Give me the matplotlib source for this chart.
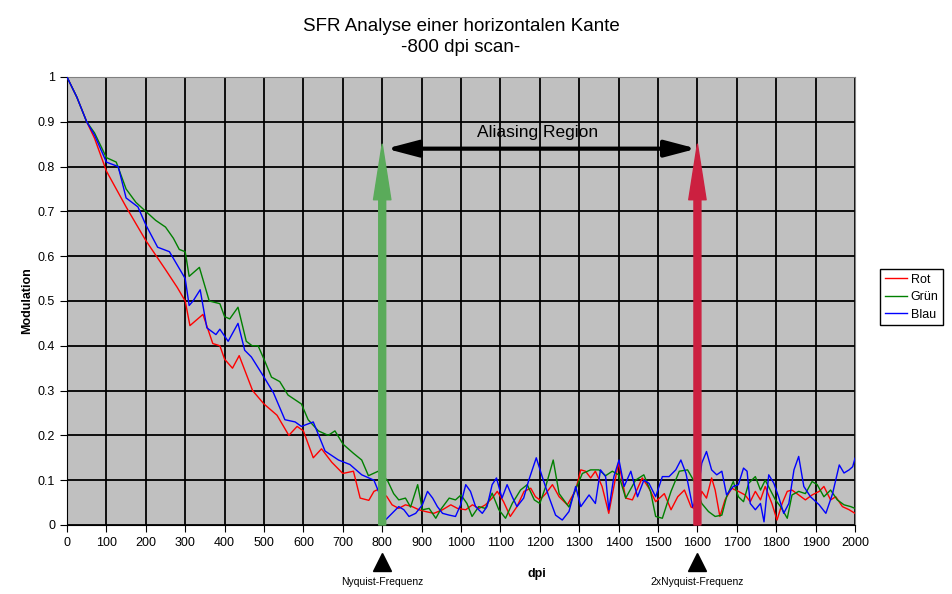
import numpy as np
import matplotlib
matplotlib.use("Agg")
import matplotlib.pyplot as plt

plt.rcParams['font.family'] = ['Liberation Sans', 'DejaVu Sans']

# values (dpi, modulation)
rot_x = [0, 25, 50, 70, 100, 150, 200, 250, 280, 300, 312, 345, 370, 388, 400, 420, 437, 471, 500, 533,
         563, 584, 600, 625, 646, 672, 700, 727, 744, 766, 779, 791, 812, 825, 842, 859, 876, 893, 910, 931,
         953, 974, 991, 1012, 1029, 1046, 1062, 1079, 1092, 1108, 1125, 1142, 1160, 1177, 1189, 1200, 1215,
         1232, 1249, 1270, 1291, 1304, 1316, 1329, 1341, 1358, 1375, 1388, 1400, 1418, 1435, 1460, 1477,
         1494, 1516, 1533, 1550, 1567, 1584, 1600, 1611, 1623, 1636, 1645, 1657, 1670, 1687, 1704, 1721,
         1734, 1747, 1760, 1772, 1789, 1802, 1815, 1828, 1840, 1857, 1874, 1891, 1909, 1921, 1938, 1951,
         1968, 1985, 2000]
rot_y = [1.0, 0.955, 0.9, 0.863, 0.79, 0.71, 0.635, 0.57, 0.53, 0.50, 0.445, 0.47, 0.405, 0.40, 0.37,
         0.35, 0.378, 0.30, 0.27, 0.245, 0.20, 0.22, 0.21, 0.15, 0.17, 0.14, 0.115, 0.12, 0.06, 0.055,
         0.075, 0.08, 0.063, 0.045, 0.037, 0.045, 0.041, 0.034, 0.03, 0.026, 0.034, 0.045, 0.037, 0.034,
         0.045, 0.037, 0.045, 0.06, 0.075, 0.052, 0.019, 0.041, 0.075, 0.082, 0.063, 0.056, 0.07, 0.09,
         0.063, 0.045, 0.078, 0.123, 0.12, 0.105, 0.12, 0.086, 0.026, 0.086, 0.14, 0.06, 0.056, 0.105,
         0.082, 0.052, 0.07, 0.034, 0.063, 0.078, 0.04, 0.034, 0.075, 0.06, 0.105, 0.078, 0.019, 0.056,
         0.082, 0.075, 0.067, 0.052, 0.075, 0.056, 0.086, 0.048, 0.011, 0.048, 0.075, 0.078, 0.067, 0.056,
         0.067, 0.075, 0.086, 0.056, 0.063, 0.041, 0.034, 0.026]

gruen_x = [0, 25, 50, 70, 100, 125, 150, 175, 200, 225, 250, 270, 285, 300, 310, 336, 361, 388, 400, 413,
           434, 455, 470, 485, 500, 519, 540, 561, 595, 612, 638, 663, 680, 701, 727, 748, 765, 790, 800,
           813, 829, 842, 859, 872, 890, 902, 919, 936, 948, 970, 986, 1000, 1015, 1028, 1045, 1062, 1079,
           1096, 1113, 1130, 1151, 1168, 1186, 1200, 1215, 1234, 1249, 1274, 1291, 1308, 1329, 1350, 1367,
           1384, 1400, 1418, 1443, 1464, 1481, 1494, 1511, 1533, 1554, 1575, 1592, 1600, 1611, 1628, 1645,
           1662, 1674, 1691, 1704, 1717, 1730, 1747, 1760, 1772, 1785, 1798, 1811, 1828, 1840, 1857, 1874,
           1891, 1904, 1921, 1938, 1955, 1972, 1989, 2000]
gruen_y = [1.0, 0.955, 0.9, 0.875, 0.82, 0.81, 0.75, 0.72, 0.70, 0.68, 0.665, 0.64, 0.615, 0.61, 0.555,
           0.575, 0.50, 0.494, 0.465, 0.46, 0.486, 0.41, 0.40, 0.40, 0.37, 0.33, 0.32, 0.29, 0.27, 0.235,
           0.21, 0.20, 0.21, 0.18, 0.16, 0.145, 0.11, 0.12, 0.11, 0.10, 0.07, 0.056, 0.06, 0.04, 0.09, 0.034,
           0.037, 0.015, 0.034, 0.06, 0.056, 0.067, 0.048, 0.019, 0.041, 0.037, 0.071, 0.034, 0.015, 0.048,
           0.078, 0.09, 0.056, 0.048, 0.086, 0.145, 0.07, 0.04, 0.08, 0.115, 0.123, 0.123, 0.11, 0.12, 0.112,
           0.06, 0.1, 0.112, 0.075, 0.019, 0.015, 0.075, 0.12, 0.123, 0.097, 0.075, 0.048, 0.03, 0.019, 0.022,
           0.063, 0.097, 0.063, 0.052, 0.093, 0.108, 0.078, 0.1, 0.078, 0.056, 0.041, 0.015, 0.067, 0.075,
           0.07, 0.097, 0.09, 0.063, 0.078, 0.056, 0.045, 0.041, 0.037]

blau_x = [0, 25, 50, 70, 100, 130, 150, 180, 200, 230, 260, 280, 300, 310, 320, 338, 355, 378, 388, 409,
          434, 451, 468, 500, 524, 553, 579, 595, 625, 655, 689, 718, 748, 779, 796, 808, 825, 842, 855, 868,
          885, 902, 915, 928, 940, 953, 970, 986, 999, 1012, 1024, 1037, 1054, 1066, 1079, 1090, 1104, 1117,
          1130, 1142, 1159, 1172, 1191, 1206, 1223, 1240, 1257, 1274, 1291, 1304, 1325, 1341, 1354, 1367,
          1375, 1388, 1401, 1414, 1431, 1448, 1464, 1477, 1494, 1511, 1528, 1545, 1558, 1571, 1588, 1600,
          1611, 1623, 1636, 1649, 1662, 1674, 1691, 1704, 1717, 1726, 1734, 1747, 1760, 1769, 1781, 1794,
          1806, 1819, 1832, 1845, 1857, 1870, 1887, 1909, 1926, 1943, 1960, 1972, 1985, 1994, 2000]
blau_y = [1.0, 0.955, 0.9, 0.87, 0.81, 0.80, 0.73, 0.71, 0.67, 0.62, 0.61, 0.58, 0.55, 0.49, 0.50, 0.525,
          0.44, 0.425, 0.437, 0.41, 0.45, 0.39, 0.375, 0.33, 0.295, 0.235, 0.23, 0.22, 0.23, 0.165, 0.145,
          0.135, 0.112, 0.10, 0.063, 0.011, 0.026, 0.041, 0.034, 0.019, 0.026, 0.045, 0.075, 0.06, 0.041,
          0.026, 0.022, 0.019, 0.045, 0.09, 0.075, 0.041, 0.026, 0.041, 0.09, 0.105, 0.06, 0.09, 0.063,
          0.041, 0.06, 0.1, 0.15, 0.108, 0.063, 0.022, 0.011, 0.03, 0.086, 0.041, 0.067, 0.048, 0.123,
          0.108, 0.034, 0.108, 0.145, 0.086, 0.12, 0.063, 0.1, 0.093, 0.063, 0.108, 0.108, 0.123, 0.145,
          0.115, 0.04, 0.063, 0.138, 0.164, 0.123, 0.112, 0.12, 0.067, 0.086, 0.09, 0.127, 0.12, 0.048,
          0.034, 0.048, 0.007, 0.112, 0.093, 0.063, 0.026, 0.048, 0.123, 0.153, 0.086, 0.063, 0.045, 0.026,
          0.07, 0.134, 0.116, 0.123, 0.13, 0.149]

x_ticks = list(range(0, 2001, 100))
y_ticks = [0, 0.1, 0.2, 0.3, 0.4, 0.5, 0.6, 0.7, 0.8, 0.9, 1]
y_ticklabels = ['0', '0.1', '0.2', '0.3', '0.4', '0.5', '0.6', '0.7', '0.8', '0.9', '1']

nyquist = 800
nyquist2 = 1600
arrow_top = 0.85
region_y = 0.84

fig = plt.figure(figsize=(9.53, 5.94), dpi=100)
ax = fig.add_axes([0.0703, 0.1162, 0.8269, 0.7542])
ax.set_facecolor('#c0c0c0')

ax.plot(rot_x, rot_y, color='#ff0000', lw=1.0, label='Rot', zorder=3)
ax.plot(gruen_x, gruen_y, color='#008000', lw=1.0, label='Grün', zorder=3)
ax.plot(blau_x, blau_y, color='#0000ff', lw=1.0, label='Blau', zorder=3)

ax.set_xlim(0, 2000)
ax.set_ylim(0, 1)
ax.set_xticks(x_ticks)
ax.set_yticks(y_ticks)
ax.set_yticklabels(y_ticklabels)
ax.grid(True, color='black', lw=1.3)
ax.tick_params(direction='out', length=5, labelsize=9, color='black')
for s in ['top', 'right']:
    ax.spines[s].set_color('#808080')

# big arrows at Nyquist and 2x Nyquist
ax.annotate('', xy=(nyquist, arrow_top), xytext=(nyquist, 0),
            arrowprops=dict(arrowstyle='simple,head_width=1.25,head_length=4.0,tail_width=0.5',
                            mutation_scale=10, color='#5aab5a', shrinkA=0, shrinkB=0), zorder=4)
ax.annotate('', xy=(nyquist2, arrow_top), xytext=(nyquist2, 0),
            arrowprops=dict(arrowstyle='simple,head_width=1.25,head_length=4.0,tail_width=0.5',
                            mutation_scale=10, color='#cc2040', shrinkA=0, shrinkB=0), zorder=4)
ax.annotate('', xy=(nyquist + 10, region_y), xytext=(nyquist2 - 2, region_y),
            arrowprops=dict(arrowstyle='<|-|>,head_length=1.9,head_width=0.5',
                            mutation_scale=10, color='black', lw=3, shrinkA=0, shrinkB=0), zorder=4)
ax.text(1195, 0.876, 'Aliasing Region', ha='center', va='center', fontsize=12.5, zorder=5)

# markers below the axis
ax.plot([nyquist, nyquist2], [-0.083, -0.083], ls='none', marker='^', ms=13, color='black', clip_on=False)
ax.text(nyquist, -0.128, 'Nyquist-Frequenz', ha='center', va='center', fontsize=7.5)
ax.text(nyquist2, -0.128, '2xNyquist-Frequenz', ha='center', va='center', fontsize=7.5)

ax.set_xlabel('dpi', fontweight='bold', fontsize=9)
ax.xaxis.set_label_coords(0.596, -0.096)
ax.set_ylabel('Modulation', fontweight='bold', fontsize=9)
ax.yaxis.set_label_coords(-0.043, 0.5)

ax.set_title('SFR Analyse einer horizontalen Kante\n-800 dpi scan-', fontsize=13.5, pad=18, linespacing=1.3)

leg = ax.legend(loc='upper left', bbox_to_anchor=(1.032, 0.571), fontsize=9, fancybox=False,
                edgecolor='black', framealpha=1, handlelength=1.8, handletextpad=0.3,
                borderpad=0.35, borderaxespad=0, labelspacing=0.45)
leg.get_frame().set_linewidth(1.0)

fig.savefig('out.png', dpi=100)
